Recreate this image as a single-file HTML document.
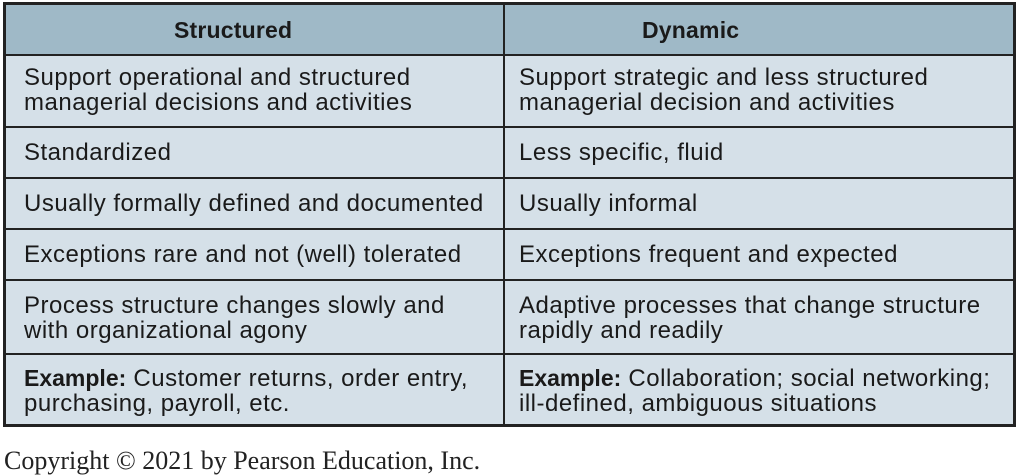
<!DOCTYPE html>
<html><head><style>
body{margin:0;width:1020px;height:475px;background:#fff;position:relative;overflow:hidden;font-family:"Liberation Sans",sans-serif;}
.t{position:absolute;left:3px;top:2px;width:1007px;height:419px;border:3px solid #222;background:#d5e0e8;}
.h{position:absolute;left:0;top:0;width:1007px;height:49px;background:#9fb9c7;border-bottom:2px solid #222;}
.v{position:absolute;left:497px;top:0;width:2px;height:419px;background:#222;}
.r{position:absolute;left:0;width:1007px;height:2px;background:#222;}
.c{position:absolute;font-size:24px;letter-spacing:0.5px;line-height:25px;color:#1a1a1a;white-space:nowrap;}
.c b{letter-spacing:0;font-size:23px;}
.hd{position:absolute;top:12px;font-size:23px;letter-spacing:0.2px;font-weight:bold;color:#1a1a1a;}
.cp{position:absolute;left:4px;top:446px;font-family:"Liberation Serif",serif;font-size:26px;color:#222;}
</style></head><body>
<div class="t">
<div class="h"></div>
<div class="hd" style="left:168px">Structured</div>
<div class="hd" style="left:636px">Dynamic</div>
<div class="r" style="top:121px"></div>
<div class="r" style="top:172px"></div>
<div class="r" style="top:223px"></div>
<div class="r" style="top:274px"></div>
<div class="r" style="top:348px"></div>
<div class="v"></div>
<div class="c" style="left:18px;top:60px">Support operational and structured<br>managerial decisions and activities</div>
<div class="c" style="left:513px;top:60px">Support strategic and less structured<br>managerial decision and activities</div>
<div class="c" style="left:18px;top:135px">Standardized</div>
<div class="c" style="left:513px;top:135px">Less specific, fluid</div>
<div class="c" style="left:18px;top:186px">Usually formally defined and documented</div>
<div class="c" style="left:513px;top:186px">Usually informal</div>
<div class="c" style="left:18px;top:237px">Exceptions rare and not (well) tolerated</div>
<div class="c" style="left:513px;top:237px">Exceptions frequent and expected</div>
<div class="c" style="left:18px;top:288px">Process structure changes slowly and<br>with organizational agony</div>
<div class="c" style="left:513px;top:288px">Adaptive processes that change structure<br>rapidly and readily</div>
<div class="c" style="left:18px;top:361px"><b>Example:</b> Customer returns, order entry,<br>purchasing, payroll, etc.</div>
<div class="c" style="left:513px;top:361px"><b>Example:</b> Collaboration; social networking;<br>ill-defined, ambiguous situations</div>
</div>
<div class="cp">Copyright © 2021 by Pearson Education, Inc.</div>
</body></html>
